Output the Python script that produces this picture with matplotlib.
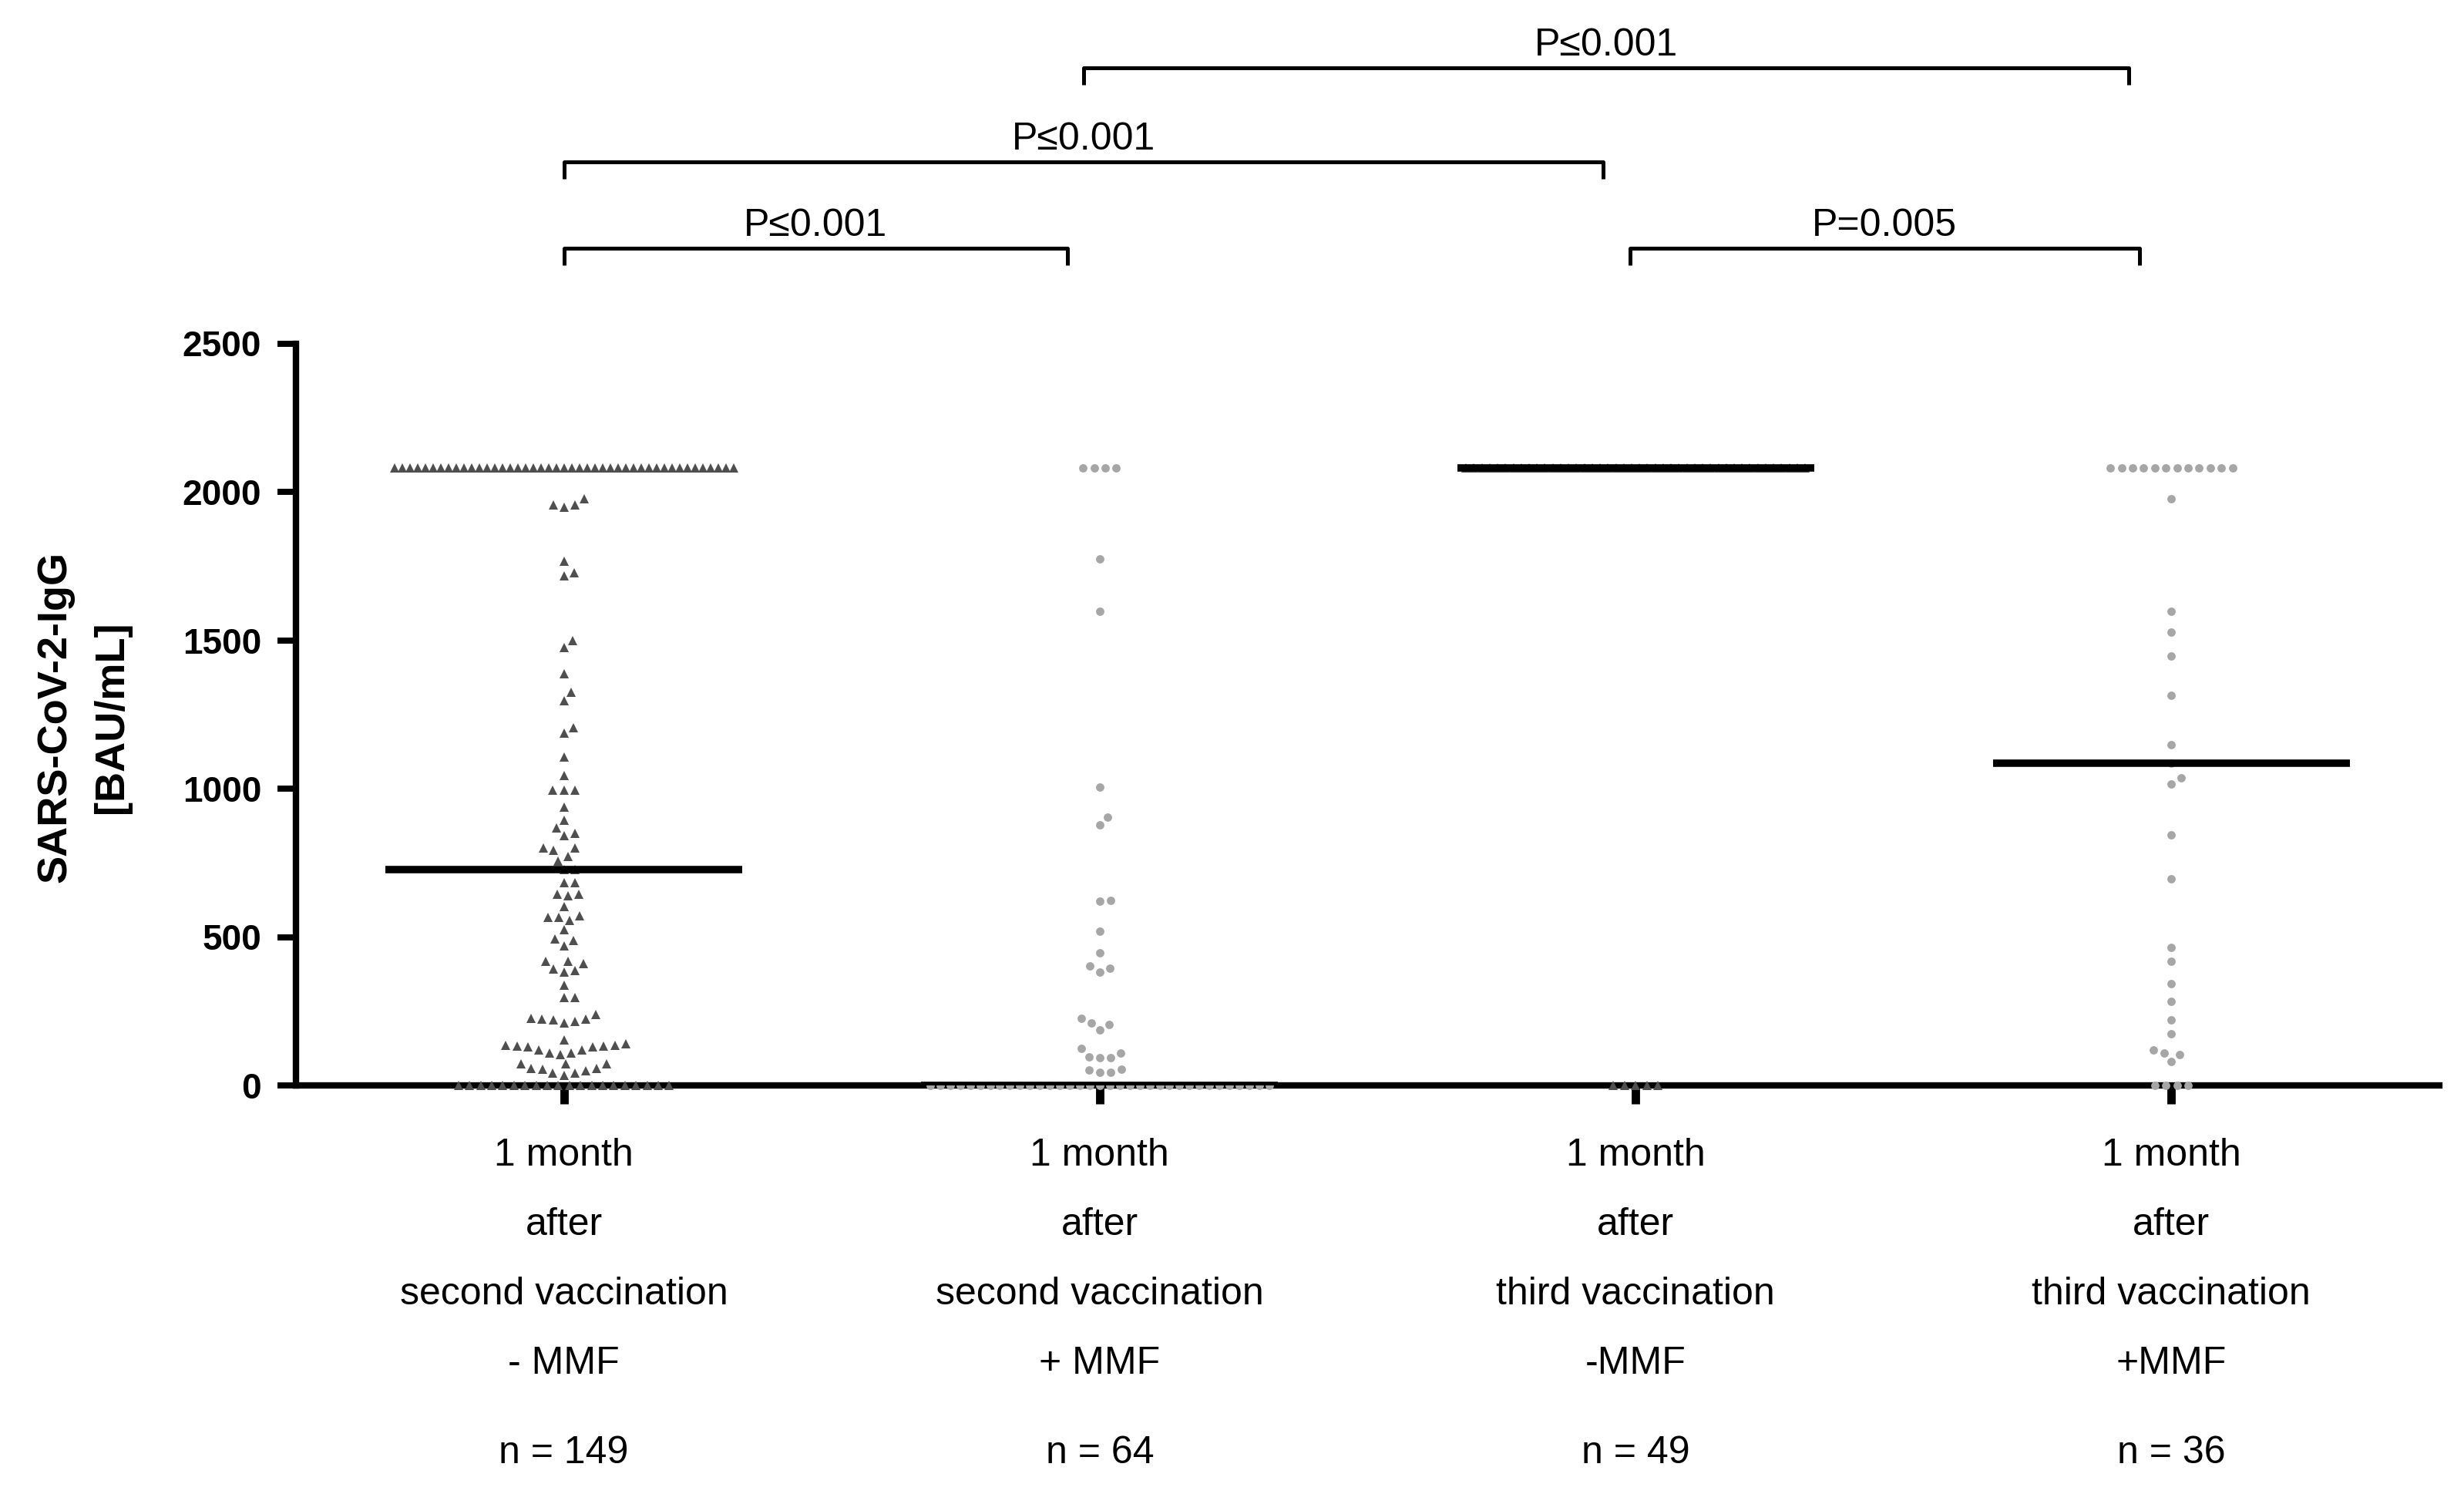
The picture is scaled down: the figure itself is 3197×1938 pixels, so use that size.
import matplotlib.pyplot as plt
import numpy as np

plt.rcParams['font.family'] = ['Liberation Sans', 'DejaVu Sans']

# group labels under the x axis
groups = ['1 month\nafter\nsecond vaccination\n- MMF',
          '1 month\nafter\nsecond vaccination\n+ MMF',
          '1 month\nafter\nthird vaccination\n-MMF',
          '1 month\nafter\nthird vaccination\n+MMF']
n_labels = ['n = 149', 'n = 64', 'n = 49', 'n = 36']

# SARS-CoV-2-IgG [BAU/mL] per patient (2080 = assay cap)
g1_vals = ([2080] * 45 +
           [1977, 1957, 1947, 1957, 1765, 1727, 1716, 1498, 1475, 1388,
            1325, 1297, 1206, 1187, 1106, 1045, 995, 995, 995, 938,
            894, 868, 850, 841, 801, 801, 792, 772, 757, 726,
            727, 682, 682, 645, 638, 645, 603, 571, 566, 556,
            566, 524, 493, 471, 489, 419, 410, 388, 382, 391,
            417, 337, 295, 295, 240, 224, 216, 211, 221, 224,
            227, 154, 135, 132, 129, 120, 109, 105, 109, 120,
            129, 132, 135, 139, 72, 57, 54, 42, 42, 50,
            57, 72, 72, 35] +
           [0] * 20)
g2_vals = ([2080] * 4 +
           [1775, 1598, 1005, 904, 877, 621, 624, 519, 448, 396,
            383, 402, 227, 204, 210, 186, 124, 97, 93, 93,
            109, 54, 44, 44, 51] +
           [0] * 35)
g3_vals = [2080] * 44 + [0] * 5
g4_vals = ([2080] * 12 +
           [1977, 1598, 1526, 1446, 1315, 1148, 1086, 1036, 1016, 845,
            697, 464, 418, 343, 284, 220, 175, 119, 105, 109, 80] +
           [0] * 4)
all_vals = [g1_vals, g2_vals, g3_vals, g4_vals]
medians = [726, 0, 2080, 1086]

markers = ['^', 'o', '^', 'o']
colors = ['#4f4f4f', '#a6a6a6', '#4f4f4f', '#a6a6a6']
sizes = [3.0, 2.6, 3.0, 2.6]

# significance brackets
br_x0 = [0.0, 0.0, 0.97, 1.99]
br_x1 = [0.94, 1.94, 2.92, 2.94]
br_y = [2821, 3112, 3429, 2821]
p_labels = ['P≤0.001', 'P≤0.001', 'P≤0.001', 'P=0.005']

W, H, DPI = 3197, 1938, 300
fig = plt.figure(figsize=(W / DPI, H / DPI), dpi=DPI)
ax = fig.add_axes([384 / W, 1 - 1408 / H, (3165 - 384) / W, (1408 - 445.5) / H])
ax.set_xlim(-0.5, 3.5)
ax.set_ylim(0, 2500)

# pixels per data unit, used for the scatter layout
x_px = (3165 - 384) / 4.0
y_px = (1408 - 445.5) / 2500.0


def swarm_offsets(vals, d=14.4, max_half=220):
    vals = np.asarray(vals, float)
    offs = np.zeros(len(vals))
    placed = []
    rows = set()
    uniq, counts = np.unique(vals, return_counts=True)
    for u, c in zip(uniq, counts):
        if c > 3:
            idx = np.where(vals == u)[0]
            step = min(d, 2 * max_half / (c - 1))
            xs = (np.arange(c) - (c - 1) / 2) * step
            offs[idx] = xs
            placed += [(x, u * y_px) for x in xs]
            rows.add(u)
    for i in np.argsort(vals, kind='stable'):
        if vals[i] in rows:
            continue
        y = vals[i] * y_px
        cands = [0.0]
        for px, py in placed:
            dy = y - py
            if abs(dy) < d:
                dx = np.sqrt(d * d - dy * dy)
                cands += [px + dx, px - dx]
        cands.sort(key=abs)
        for c in cands:
            if all((c - px) ** 2 + (y - py) ** 2 >= d * d - 1e-6 for px, py in placed):
                offs[i] = c
                placed.append((c, y))
                break
    return offs / x_px


for i, vals in enumerate(all_vals):
    xs = i + swarm_offsets(vals)
    ax.plot(xs, vals, linestyle='none', marker=markers[i], ms=sizes[i],
            color=colors[i], mec='none', zorder=3, clip_on=False)
    ax.plot([i - 0.333, i + 0.333], [medians[i], medians[i]], color='black',
            lw=2.3, solid_capstyle='butt', zorder=4)

for x0, x1, y, lab in zip(br_x0, br_x1, br_y, p_labels):
    ax.plot([x0, x0, x1, x1], [y - 57, y, y, y - 57], color='black', lw=1.2,
            clip_on=False, solid_capstyle='butt')
    ax.text((x0 + x1) / 2, y + 42, lab, ha='center', va='baseline',
            fontsize=12, clip_on=False)

for sp in ['top', 'right']:
    ax.spines[sp].set_visible(False)
for sp in ['left', 'bottom']:
    ax.spines[sp].set_linewidth(2.0)

ax.set_yticks([0, 500, 1000, 1500, 2000, 2500])
ax.tick_params(axis='y', direction='out', length=5.8, width=1.9, pad=5,
               labelsize=11)
for t in ax.get_yticklabels():
    t.set_fontweight('bold')
ax.set_xticks(range(4))
ax.set_xticklabels(groups, fontsize=12, linespacing=2.22)
ax.tick_params(axis='x', direction='out', length=5.8, width=2.6, pad=10.5)

for i, n in enumerate(n_labels):
    ax.text(i, -1239, n, ha='center', va='center', fontsize=12, clip_on=False)

fig.text(108.5 / W, 1 - 930 / H, 'SARS-CoV-2-IgG\n[BAU/mL]', rotation=90,
         ha='center', va='center', fontsize=13, fontweight='bold',
         linespacing=1.6)

fig.savefig('out.png', dpi=DPI)
